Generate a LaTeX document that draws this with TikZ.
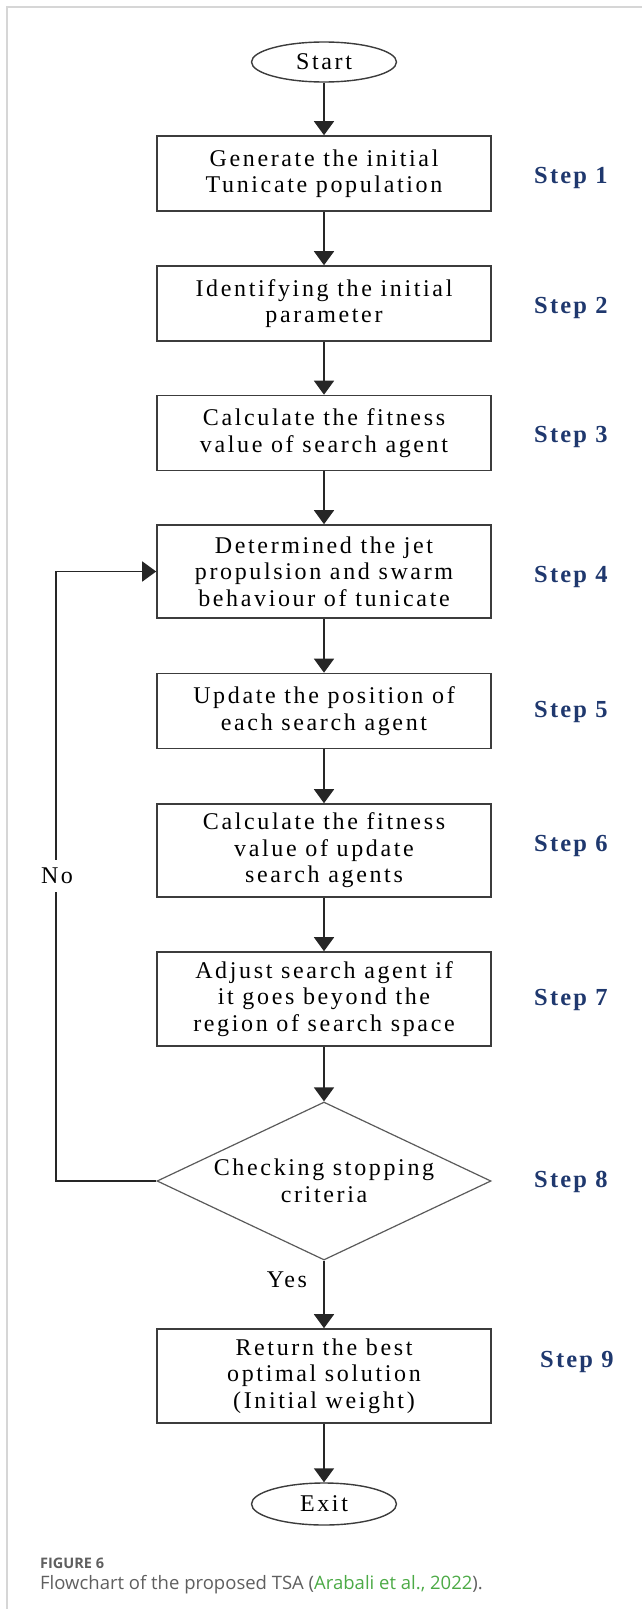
\documentclass[tikz,border=0pt]{standalone}
\usepackage{fontspec}
\setmainfont{Liberation Serif}
\newfontfamily\flowfont{Liberation Serif}[LetterSpace=11]
\newfontfamily\stepfont{Liberation Serif}[LetterSpace=9]
\newfontfamily\capfont{Open Sans}
\usetikzlibrary{shapes.geometric,arrows.meta}
\definecolor{stepblue}{RGB}{31,56,110}
\definecolor{framegray}{RGB}{214,214,214}
\definecolor{edgegray}{RGB}{60,60,60}
\definecolor{diagray}{RGB}{90,90,90}
\definecolor{capgray}{RGB}{95,95,95}
\definecolor{citegreen}{RGB}{76,170,70}
\begin{document}
\begin{tikzpicture}[x=1pt,y=-1pt,
  every node/.style={inner sep=0pt},
  flowtext/.style={font=\flowfont\fontsize{24}{26.5}\selectfont},
  procbox/.style={flowtext, rectangle, draw=edgegray, line width=1.6pt,
    minimum width=334pt, align=center},
  term/.style={flowtext, ellipse, draw=edgegray, line width=1.4pt,
    minimum width=145pt, minimum height=40pt},
  decision/.style={flowtext, diamond, aspect=2.11, draw=diagray, line width=1.2pt,
    minimum width=334pt, minimum height=158pt, align=center},
  arr/.style={draw=black!85, line width=1.6pt, -{Triangle[width=20pt,length=14pt]}},
  steplbl/.style={anchor=west, text=stepblue,
    font=\stepfont\bfseries\fontsize{24.5}{27}\selectfont},
  branch/.style={flowtext}
]
\useasboundingbox (0,0) rectangle (642,1609);

% card outline
\draw[framegray, line width=1.5pt] (7,1609) -- (7,7) -- (642,7);

% flowchart nodes
\node[term] (start) at (324,62) {Start};
\node[procbox, minimum height=75pt] (b1) at (324,173.5) {Generate the initial\\Tunicate population};
\node[procbox, minimum height=75pt] (b2) at (324,303.5) {Identifying the initial\\parameter};
\node[procbox, minimum height=75pt] (b3) at (324,433) {Calculate the fitness\\value of search agent};
\node[procbox, minimum height=93pt] (b4) at (324,571.5) {Determined the jet\\propulsion and swarm\\behaviour of tunicate};
\node[procbox, minimum height=75pt] (b5) at (324,711) {Update the position of\\each search agent};
\node[procbox, minimum height=93pt] (b6) at (324,850.5) {Calculate the fitness\\value of update\\search agents};
\node[procbox, minimum height=94pt] (b7) at (324,999) {Adjust search agent if\\it goes beyond the\\region of search space};
\node[decision] (dec) at (324,1181) {Checking stopping\\criteria};
\node[procbox, minimum height=94pt] (b8) at (324,1376) {Return the best\\optimal solution\\(Initial weight)};
\node[term, minimum height=42pt] (exit) at (324,1504) {Exit};

% step labels
\node[steplbl] (s1) at (534,178) {Step 1};
\node[steplbl] (s2) at (534,308) {Step 2};
\node[steplbl] (s3) at (534,437) {Step 3};
\node[steplbl] (s4) at (534,577) {Step 4};
\node[steplbl] (s5) at (534,712) {Step 5};
\node[steplbl] (s6) at (534,846) {Step 6};
\node[steplbl] (s7) at (534,1000) {Step 7};
\node[steplbl] (s8) at (534,1182) {Step 8};
\node[steplbl] (s9) at (540,1362) {Step 9};

% main flow
\draw[arr] (start) -- (b1);
\draw[arr] (b1) -- (b2);
\draw[arr] (b2) -- (b3);
\draw[arr] (b3) -- (b4);
\draw[arr] (b4) -- (b5);
\draw[arr] (b5) -- (b6);
\draw[arr] (b6) -- (b7);
\draw[arr] (b7) -- (dec);
\draw[arr] (dec) -- (b8);
\draw[arr] (b8) -- (exit);

% loop back when the criteria are not met
\coordinate (turn) at (56,1181);
\draw[arr] (dec.west) -- (turn) |- (b4.west);
\node[branch, fill=white, inner ysep=8pt, inner xsep=2pt] (no) at (57,876) {No};
\node[branch] (yes) at (287,1280) {Yes};

% caption
\node[anchor=base west, text=capgray, font=\capfont\bfseries\fontsize{14.5}{18}\selectfont]
  (figlabel) at (40,1568) {FIGURE 6};
\node[anchor=base west, text=capgray, font=\capfont\fontsize{18.5}{22}\selectfont]
  (figcap) at (40,1589) {Flowchart of the proposed TSA (\textcolor{citegreen}{Arabali et al., 2022}).};
\end{tikzpicture}
\end{document}
